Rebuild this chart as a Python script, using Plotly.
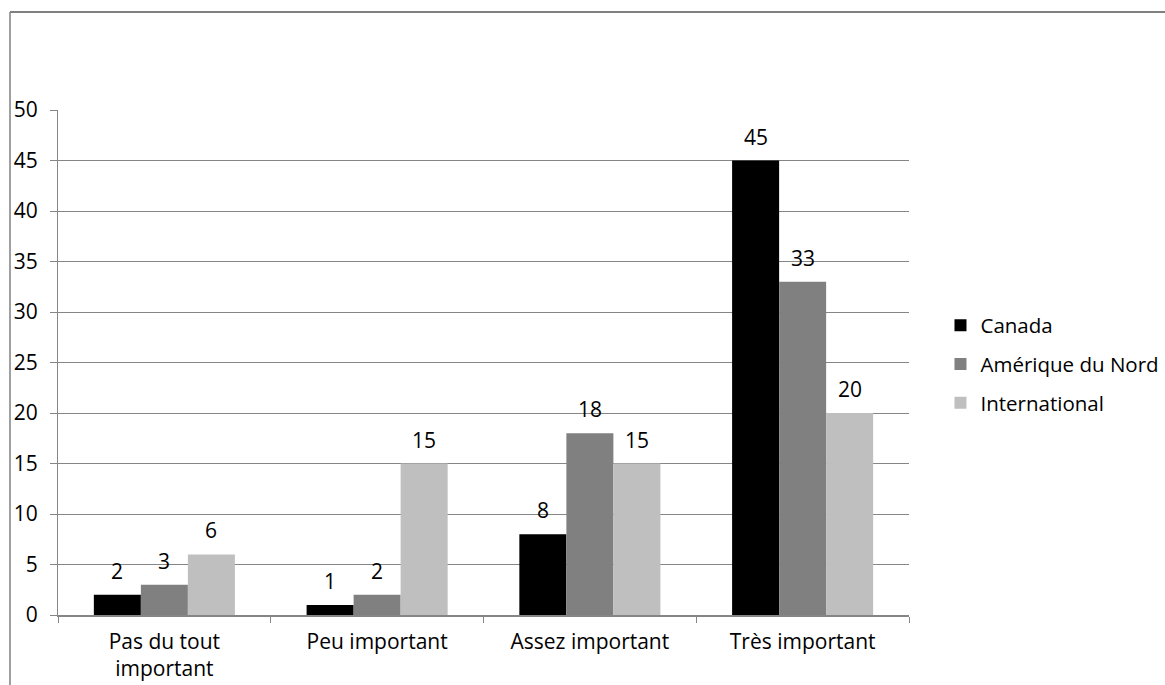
import plotly.graph_objects as go

categories = ["Pas du tout<br>important", "Peu important", "Assez important", "Très important"]
series_names = ["Canada", "Amérique du Nord", "International"]
canada = [2, 1, 8, 45]
amerique_nord = [3, 2, 18, 33]
international = [6, 15, 15, 20]
y_ticks = [0, 5, 10, 15, 20, 25, 30, 35, 40, 45, 50]

series_values = [canada, amerique_nord, international]
colors = ["#000000", "#808080", "#bfbfbf"]
FONT = "Open Sans"
FSIZE = 21
TXT = "#000000"

fig = go.Figure()
for i, (name, vals, col) in enumerate(zip(series_names, series_values, colors)):
    fig.add_trace(go.Bar(
        x=categories, y=vals, name=name, marker=dict(color=col, line=dict(width=0)),
        legendgroup=f"g{i}",
    ))

# value labels above each bar
bar_px = 47
for i, vals in enumerate(series_values):
    for cat, v in zip(categories, vals):
        fig.add_annotation(
            x=cat, y=v, xref="x", yref="y", text=str(v), showarrow=False,
            xshift=(i - 1) * bar_px, yshift=8, yanchor="bottom",
            font=dict(family=FONT, size=FSIZE, color=TXT),
        )

# chart frame lines (top and left edges)
fig.add_shape(type="line", xref="paper", yref="paper", x0=-0.0564, x1=1.35, y0=1.194, y1=1.194,
              line=dict(color="#808080", width=2))
fig.add_shape(type="line", xref="paper", yref="paper", x0=-0.0564, x1=-0.0564, y0=1.194, y1=-0.2,
              line=dict(color="#808080", width=1.5))

fig.update_layout(
    width=1165, height=685,
    margin=dict(l=58, r=256, t=110, b=70, autoexpand=False),
    paper_bgcolor="white", plot_bgcolor="white",
    barmode="group", bargap=0.337, bargroupgap=0,
    font=dict(family=FONT, size=FSIZE, color=TXT),
    legend=dict(x=1.037, y=0.497, xanchor="left", yanchor="middle",
                tracegroupgap=9, font=dict(family=FONT, size=20.5, color=TXT)),
    showlegend=True,
)
fig.update_xaxes(
    showline=True, linecolor="#868686", linewidth=1.5,
    tickson="boundaries", ticks="outside", ticklen=6, tickcolor="#868686",
    showgrid=False, ticklabelstandoff=7,
    tickfont=dict(family=FONT, size=FSIZE, color=TXT),
)
fig.update_yaxes(
    range=[0, 50], tickvals=y_ticks, showgrid=True, gridcolor="#868686", gridwidth=1.2,
    showline=True, linecolor="#868686", linewidth=1.2,
    ticks="outside", ticklen=7, tickcolor="#868686", zeroline=False,
    ticklabelstandoff=8,
    tickfont=dict(family=FONT, size=FSIZE, color=TXT),
)

fig.write_html("out.html")
